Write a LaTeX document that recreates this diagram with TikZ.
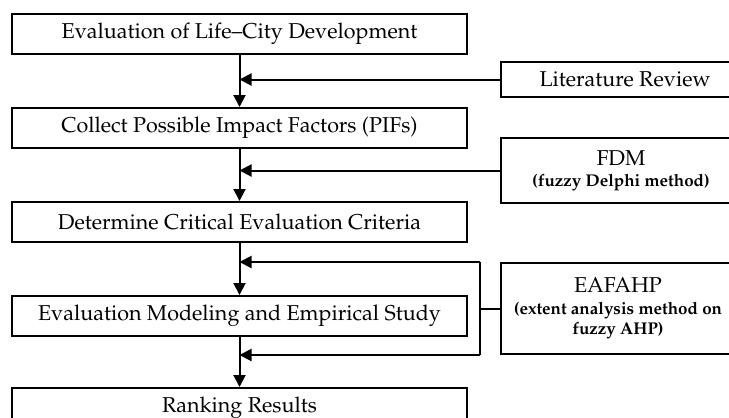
\documentclass[tikz,border=0pt]{standalone}
\usepackage[T1]{fontenc}
\usepackage{mathpazo}
\usetikzlibrary{positioning,arrows.meta}

\newcommand{\methodnote}[1]{{\fontsize{17}{19}\selectfont\bfseries #1}}

\begin{document}
\begin{tikzpicture}[
  x=1pt, y=-1pt,
  block/.style={rectangle, draw, line width=2pt, minimum width=455pt, minimum height=40pt, font=\fontsize{21.5}{24}\selectfont},
  side/.style={rectangle, draw, line width=2pt, minimum width=248pt, align=center, font=\fontsize{21.5}{24}\selectfont},
  link/.style={line width=2pt},
  arr/.style={line width=2pt, -{Triangle[length=12pt,width=12pt]}},
  node distance=52pt
]
\useasboundingbox (0,0) rectangle (729,418);

% Main steps
\node[block] (eval) at (239.5,34) {Evaluation of Life--City Development};
\node[block, below=of eval] (collect) {Collect Possible Impact Factors (PIFs)};
\node[block, below=of collect] (crit) {Determine Critical Evaluation Criteria};
\node[block, below=of crit] (model) {Evaluation Modeling and Empirical Study};
\node[block, below=of model, yshift=2pt] (rank) {Ranking Results};

% Methods
\node[side, minimum height=35pt] (lit) at (625,79.5) {Literature Review};
\node[side, minimum height=65pt, minimum width=240pt] (fdm) at (621,170.5) {FDM\\[-3pt] \methodnote{(fuzzy Delphi method)}};
\node[side, minimum height=91pt, minimum width=234pt] (eaf) at (618,308.5) {EAFAHP\\[-2pt] \methodnote{(extent analysis method on}\\[-4pt] \methodnote{fuzzy AHP)}};

% Main flow
\draw[arr] (eval) -- (collect);
\draw[arr] (collect) -- (crit);
\draw[arr] (crit) -- (model);
\draw[arr] (model) -- (rank);

% Method inputs
\draw[arr] (lit.west) -- (eval.south |- lit.west);
\draw[arr] (fdm.west) -- (collect.south |- fdm.west);
\draw[link] (eaf.west) -- ++(-20,0) coordinate (brk);
\draw[link] (brk |- eaf.north) -- (brk |- eaf.south);
\draw[arr] (brk |- eaf.north) -- (crit.south |- eaf.north);
\draw[arr] (brk |- eaf.south) -- (model.south |- eaf.south);

\end{tikzpicture}
\end{document}
